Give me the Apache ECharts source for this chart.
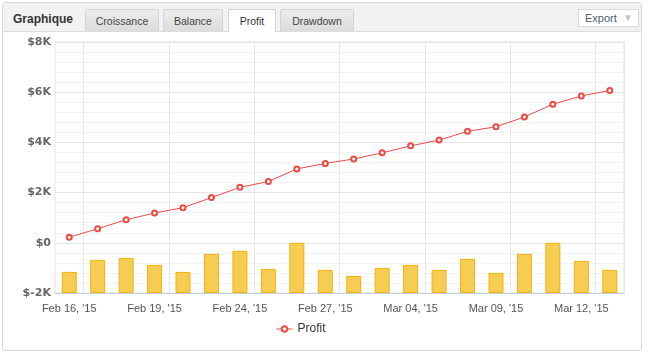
<!DOCTYPE html>
<html>
<head>
<meta charset="utf-8">
<script src="https://cdn.jsdelivr.net/npm/echarts@6/dist/echarts.min.js"></script>
<style>
  html, body { margin: 0; padding: 0; background: #fff; }
  body { width: 647px; height: 352px; position: relative; overflow: hidden; font-family: "Liberation Sans", Arial, sans-serif; }
  #frame { position: absolute; left: 2px; top: 2px; width: 638px; height: 347px; border: 1px solid #d9d9d9; border-radius: 3px; background: #fff; }
  #head { position: absolute; left: 0; top: 0; right: 0; height: 28px; background: #f2f2f2; border-bottom: 1px solid #dcdcdc; border-radius: 3px 3px 0 0; }
  #title { position: absolute; left: 10px; top: 9px; font-weight: bold; font-size: 12px; color: #333; }
  .tab { position: absolute; top: 6px; height: 22px; line-height: 22px; text-align: center; font-size: 10.5px; color: #444;
         background: linear-gradient(#ececec, #dcdcdc); border: 1px solid #d4d4d4; border-bottom: none; border-radius: 2px 2px 0 0; box-sizing: border-box; }
  .tab.on { background: #fff; height: 23px; color: #333; }
  #export { position: absolute; left: 575px; top: 6px; width: 61px; height: 18px; box-sizing: border-box; border: 1px solid #dadada; background: #fff;
            font-size: 11px; line-height: 16px; color: #4a5a6c; padding-left: 6px; }
  #export span { position: absolute; right: 5px; top: 0; font-size: 10px; color: #c4c4c4; }
  #chart { position: absolute; left: 0; top: 0; width: 647px; height: 352px; }
</style>
</head>
<body>
<div id="frame">
  <div id="head">
    <div id="title">Graphique</div>
    <div class="tab" style="left:82px;width:74px">Croissance</div>
    <div class="tab" style="left:160px;width:60px">Balance</div>
    <div class="tab on" style="left:225px;width:48px">Profit</div>
    <div class="tab" style="left:277px;width:74px">Drawdown</div>
    <div id="export">Export<span>&#9660;</span></div>
  </div>
</div>
<div id="chart"></div>
<script>
  // dates de trading (une par barre)
  const dates = [
    "Feb 16, '15", "Feb 17, '15", "Feb 18, '15", "Feb 19, '15", "Feb 20, '15",
    "Feb 23, '15", "Feb 24, '15", "Feb 25, '15", "Feb 26, '15", "Feb 27, '15",
    "Mar 02, '15", "Mar 03, '15", "Mar 04, '15", "Mar 05, '15", "Mar 06, '15",
    "Mar 09, '15", "Mar 10, '15", "Mar 11, '15", "Mar 12, '15", "Mar 13, '15"
  ]

  // profit cumulé ($)
  const profit = [224, 560, 920, 1184, 1400, 1800, 2212, 2440, 2944, 3160,
                  3340, 3584, 3864, 4092, 4440, 4624, 5012, 5520, 5852, 6064]

  // gain journalier ($), barres du bas
  const daily = [210, 330, 350, 280, 210, 390, 420, 240, 500, 230,
                 170, 250, 280, 230, 340, 200, 390, 500, 320, 230]

  const yTicks = { min: -2000, max: 8000, step: 2000 }

  const chart = echarts.init(document.getElementById('chart'))

  const option = {
    animation: false,
    backgroundColor: 'transparent',
    grid: {
      left: 55, right: 23, top: 42, bottom: 59,
      show: true, borderColor: '#e3e3e3', borderWidth: 1
    },
    legend: {
      data: ['Profit'],
      left: 271, top: 318,
      itemWidth: 16, itemHeight: 7,
      lineStyle: { width: 1 },
      textStyle: { color: '#333', fontSize: 12, fontFamily: 'Liberation Sans' }
    },
    xAxis: {
      type: 'category',
      data: dates,
      boundaryGap: true,
      axisLine: { onZero: false, lineStyle: { color: '#c0d0e0' } },
      axisTick: { show: false },
      axisLabel: { interval: 2, color: '#555', fontSize: 11, fontFamily: 'Liberation Sans', margin: 10 },
      splitLine: {
        show: true,
        interval: (i) => i % 3 === 1, // lignes entre les catégories
        lineStyle: { color: '#e8e8e8' }
      }
    },
    yAxis: [
      {
        type: 'value',
        min: yTicks.min, max: yTicks.max, interval: yTicks.step,
        axisLine: { show: false },
        axisTick: { show: false },
        axisLabel: {
          color: '#666', fontSize: 11, fontWeight: 'bold', fontFamily: 'DejaVu Sans', margin: 4,
          formatter: (v) => v === 0 ? '$0' : '$' + v / 1000 + 'K'
        },
        splitLine: { lineStyle: { color: '#e6e6e6' } },
        minorTick: { show: false, splitNumber: 5 },
        minorSplitLine: { show: true, lineStyle: { color: '#f3f3f3' } }
      },
      {
        type: 'value', min: 0, max: 2500, show: false,
        splitLine: { show: false }
      }
    ],
    series: [
      {
        name: 'Gain',
        type: 'bar',
        yAxisIndex: 1,
        data: daily,
        barWidth: 15,
        itemStyle: { color: '#f6cd52', borderColor: '#f0b30c', borderWidth: 1 }
      },
      {
        name: 'Profit',
        type: 'line',
        data: profit,
        symbol: 'emptyCircle',
        symbolSize: 5,
        lineStyle: { color: '#ec4a46', width: 1 },
        itemStyle: { color: '#ec4a46', borderWidth: 1.2 }
      }
    ]
  }

  chart.setOption(option)
</script>
</body>
</html>
